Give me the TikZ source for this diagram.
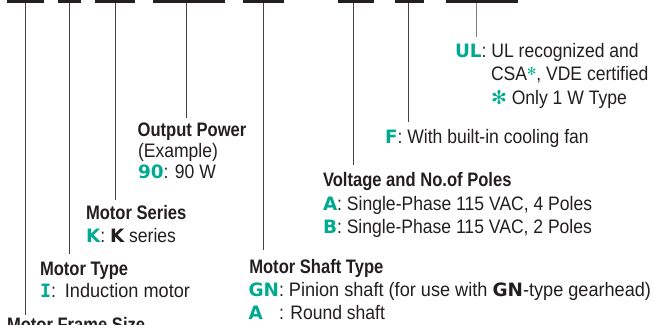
\documentclass[tikz,border=0pt]{standalone}
\usepackage{fontspec}
\setmainfont{Liberation Sans}[FakeStretch=0.9]
\newfontfamily\hdfont{Liberation Sans}[FakeStretch=0.85]
\newfontfamily\widefont{Liberation Sans}[FakeStretch=0.93]
\newfontfamily\codefont{DejaVu Sans}
\newfontfamily\serifcode{DejaVu Sans Mono}
\definecolor{grn}{RGB}{0,170,145}
\definecolor{ink}{RGB}{35,31,32}
\newcommand\codeg[1]{{\codefont\bfseries\fontsize{18.4}{22}\selectfont\color{grn}#1}}
\newcommand\codek[1]{{\codefont\bfseries\fontsize{18.4}{22}\selectfont\color{ink}#1}}
\newcommand\starg{{\codefont\color{grn}✻}}
\begin{document}
\begin{tikzpicture}[x=1pt,y=-1pt,
  txt/.style={anchor=base west,inner sep=0pt,outer sep=0pt,text=ink,font=\fontsize{19.5}{23}\selectfont},
  hd/.style={txt,font=\hdfont\bfseries\fontsize{19.5}{23}\selectfont},
  bar/.style={fill=ink,draw=none,inner sep=0pt,minimum height=2.7pt,anchor=north west},
  lead/.style={draw=ink!85,line width=1pt},
  leadgray/.style={draw=black!50,line width=1.2pt}]
\useasboundingbox (0,0) rectangle (655,324);
\clip (0,0) rectangle (655,324);
% bars
\node[bar,minimum width=36.6pt] (b1) at (6.7,0) {};
\node[bar,minimum width=23.7pt] (b2) at (57.3,0) {};
\node[bar,minimum width=40pt] (b3) at (95,0) {};
\node[bar,minimum width=72pt] (b4) at (152.3,0) {};
\node[bar,minimum width=41.7pt] (b5) at (242.3,0) {};
\node[bar,minimum width=36pt] (b6) at (337.3,0) {};
\node[bar,minimum width=29pt] (b7) at (395,0) {};
\node[bar,minimum width=72pt] (b8) at (445.7,0) {};
% leader ends
\coordinate (e1) at (25.7,315);
\coordinate (e2) at (69,254);
\coordinate (e3) at (115,200);
\coordinate (e4) at (186,118);
\coordinate (e5) at (263.5,250);
\coordinate (e6) at (353.3,165);
\coordinate (e7) at (408.3,122);
\coordinate (e8) at (476.7,37);
\draw[lead] (e1 |- b1.south) -- (e1);
\draw[lead] (e2 |- b2.south) -- (e2);
\draw[lead] (e3 |- b3.south) -- (e3);
\draw[lead] (e4 |- b4.south) -- (e4);
\draw[lead] (e5 |- b5.south) -- (e5);
\draw[lead] (e6 |- b6.south) -- (e6);
\draw[lead] (e7 |- b7.south) -- (e7);
\draw[leadgray] (e8 |- b8.south) -- (e8);
% texts
\node[hd] (op) at (137.7,136.7) {Output Power};
\node[txt] (ex) at (138,157.5) {(Example)};
\node[txt] (op1) at (138,178.3) {\codeg{90}: 90 W};
\node[hd] (ms) at (86,219.5) {Motor Series};
\node[txt] (ms1) at (86,242.7) {\codeg{K}: \codek{K} series};
\node[hd] (mt) at (40,275) {Motor Type};
\node[txt] (mt1) at (40,297.7) {{\serifcode\bfseries\fontsize{18.4}{22}\selectfont\color{grn}I}:\hspace{9pt}{\widefont Induction motor}};
\node[hd] (mf) at (7,331) {Motor Frame Size};
\node[hd] (st) at (249.3,273.3) {Motor Shaft Type};
\node[txt] (st1) at (248.5,296.7) {\codeg{GN}:{\widefont\ Pinion shaft (for use with }\codek{GN}{\widefont-type gearhead)}};
\node[txt] (st2) at (248.5,319) {\rlap{\codeg{A}}\hphantom{\codeg{GN}}: Round shaft};
\node[hd] (vp) at (323,186.7) {Voltage and No.of Poles};
\node[txt] (vp1) at (323,210) {\codeg{A}: Single-Phase 115 VAC, 4 Poles};
\node[txt] (vp2) at (323,233.3) {\codeg{B}: Single-Phase 115 VAC, 2 Poles};
\node[txt] (fan) at (385,143.3) {\codeg{F}: With built-in cooling fan};
\node[txt] (ul1) at (455,57) {\codeg{UL}: UL recognized and};
\node[txt] (ul2) at (491,80) {CSA\raisebox{5pt}{\fontsize{11}{11}\selectfont\starg}, VDE certified};
\node[txt] (ul3) at (491,104) {{\fontsize{19}{19}\selectfont\bfseries\starg} Only 1 W Type};
\end{tikzpicture}
\end{document}
